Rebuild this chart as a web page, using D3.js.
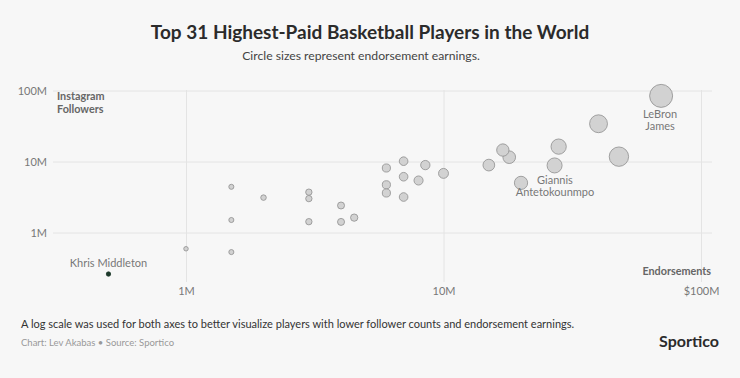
<!DOCTYPE html>
<html>
<head>
<meta charset="utf-8">
<script src="https://cdn.jsdelivr.net/npm/d3@7"></script>
<style>
  html, body { margin: 0; padding: 0; background: #f7f7f7; }
  svg { display: block; font-family: Lato, "Open Sans", sans-serif; }
</style>
</head>
<body>
<svg id="chart" width="740" height="378"></svg>
<script>
// values in millions
const players = ["Khris Middleton", "", "", "", "", "", "", "", "", "", "", "", "", "", "", "",
  "", "", "", "", "", "", "", "", "Giannis Antetokounmpo", "", "", "", "", "LeBron James"];
const endorsements = [0.5, 1.0, 1.5, 1.5, 1.5, 2.0, 3.0, 3.0, 3.0, 4.0, 4.0, 4.5, 6.0, 6.0, 6.0, 7.0,
  7.0, 7.0, 8.0, 8.5, 10, 15, 17, 18, 20, 27, 28, 40, 48, 70];
const followers = [0.26, 0.59, 4.4, 1.5, 0.53, 3.1, 3.7, 3.0, 1.42, 2.4, 1.41, 1.62, 8.1, 4.7, 3.6, 10.1,
  6.1, 3.16, 5.4, 8.9, 6.8, 8.9, 14.5, 11.5, 5.0, 8.8, 16.2, 34, 11.7, 84];
const tickValues = [1, 10, 100];
const xTickLabels = ["1M", "10M", "$100M"];
const yTickLabels = ["1M", "10M", "100M"];

const svg = d3.select("#chart");

const x = d3.scaleLog().domain([1, 100]).range([186, 701]);
const y = d3.scaleLog().domain([1, 100]).range([232.5, 90.5]);
const r = d3.scaleSqrt().domain([0, 70]).range([1, 11.5]);

// titles
svg.append("text")
  .attr("x", 370).attr("y", 39)
  .attr("text-anchor", "middle")
  .attr("font-size", 19).attr("font-weight", 700)
  .attr("fill", "#2b2b2b")
  .text("Top 31 Highest-Paid Basketball Players in the World");
svg.append("text")
  .attr("x", 361).attr("y", 60)
  .attr("text-anchor", "middle")
  .attr("font-size", 12.2).attr("fill", "#444")
  .text("Circle sizes represent endorsement earnings.");

// y grid + labels
const yAxis = svg.append("g")
  .attr("transform", "translate(53,0)")
  .call(d3.axisLeft(y).tickValues(tickValues)
    .tickSize(-659).tickPadding(6)
    .tickFormat((d, i) => yTickLabels[i]));

// x grid + labels
const xAxis = svg.append("g")
  .attr("transform", "translate(0,282)")
  .call(d3.axisBottom(x).tickValues(tickValues)
    .tickSize(-192).tickPadding(5)
    .tickFormat((d, i) => xTickLabels[i]));

[yAxis, xAxis].forEach(g => {
  g.select(".domain").remove();
  g.selectAll(".tick line").attr("stroke", "#e4e4e4").attr("stroke-width", 1);
  g.selectAll(".tick text").attr("fill", "#777").attr("font-size", 11)
    .attr("font-family", "Lato, sans-serif");
});

// axis titles
svg.append("text")
  .attr("x", 57).attr("y", 100)
  .attr("font-size", 10.8).attr("font-weight", 700).attr("fill", "#666")
  .selectAll("tspan").data(["Instagram", "Followers"]).join("tspan")
  .attr("x", 57).attr("dy", (d, i) => i ? 12.5 : 0)
  .text(d => d);
svg.append("text")
  .attr("x", 711).attr("y", 275)
  .attr("text-anchor", "end")
  .attr("font-size", 10.8).attr("font-weight", 700).attr("fill", "#666")
  .text("Endorsements");

// circles
const data = endorsements.map((e, i) => ({name: players[i], e, f: followers[i]}));
const highlight = "Khris Middleton";

svg.append("g")
  .selectAll("circle")
  .data(data.slice().sort((a, b) => b.e - a.e))
  .join("circle")
  .attr("cx", d => x(d.e))
  .attr("cy", d => y(d.f))
  .attr("r", d => d.name === highlight ? 2.2 : r(d.e))
  .attr("fill", d => d.name === highlight ? "#1d3a2b" : "#d2d2d2")
  .attr("stroke", d => d.name === highlight ? "#1d3a2b" : "#8e8e8e")
  .attr("stroke-width", 0.8);

// labels
const labelOffsets = {
  "Khris Middleton": {dx: 0, dy: -7, lines: ["Khris Middleton"]},
  "Giannis Antetokounmpo": {dx: 34, dy: 1.5, lines: ["Giannis", "Antetokounmpo"]},
  "LeBron James": {dx: -1, dy: 22.5, lines: ["LeBron", "James"]}
};

svg.append("g")
  .selectAll("text")
  .data(data.filter(d => labelOffsets[d.name]))
  .join("text")
  .attr("text-anchor", "middle")
  .attr("font-size", 11).attr("fill", "#777")
  .each(function (d) {
    const o = labelOffsets[d.name];
    d3.select(this).selectAll("tspan").data(o.lines).join("tspan")
      .attr("x", x(d.e) + o.dx)
      .attr("y", (t, i) => y(d.f) + o.dy + i * 11.5)
      .text(t => t);
  });

// footer
svg.append("text")
  .attr("x", 21).attr("y", 328)
  .attr("font-size", 11).attr("fill", "#333")
  .text("A log scale was used for both axes to better visualize players with lower follower counts and endorsement earnings.");
svg.append("text")
  .attr("x", 21).attr("y", 346)
  .attr("font-size", 9.5).attr("fill", "#999")
  .text("Chart: Lev Akabas \u2022 Source: Sportico");
svg.append("text")
  .attr("x", 719).attr("y", 347)
  .attr("text-anchor", "end")
  .attr("font-size", 16).attr("font-weight", 700).attr("fill", "#2b2b2b")
  .text("Sportico");
</script>
</body>
</html>
